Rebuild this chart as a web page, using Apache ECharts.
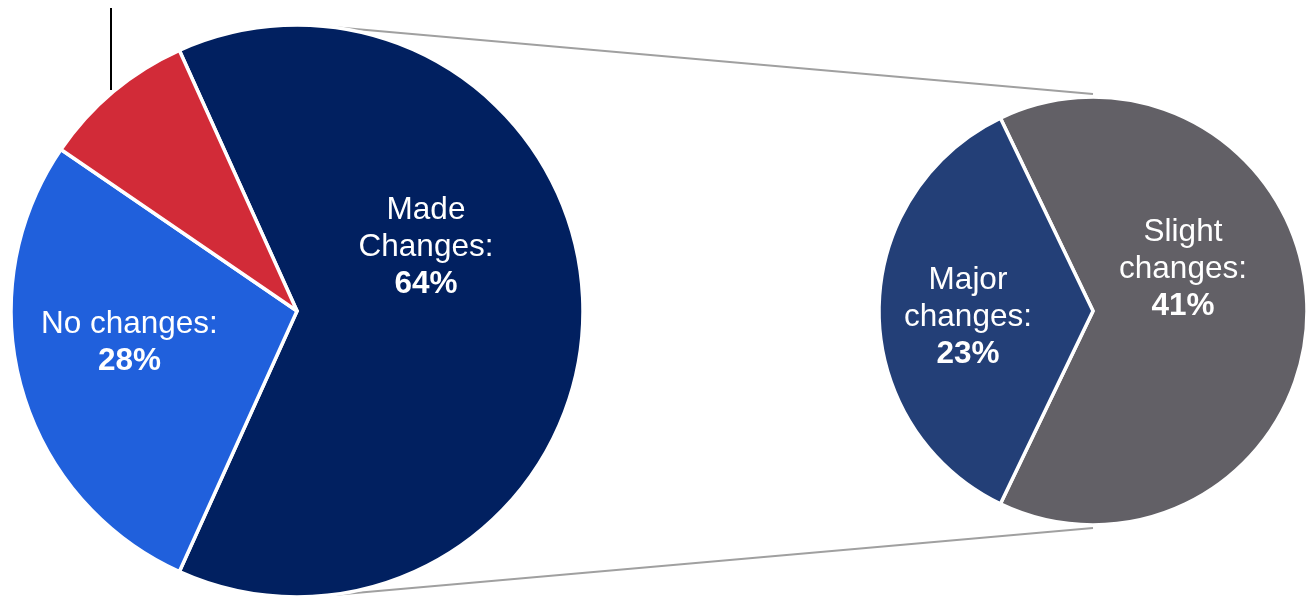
<!DOCTYPE html>
<html><head><meta charset="utf-8">
<script src="https://cdn.jsdelivr.net/npm/echarts@6/dist/echarts.min.js"></script>
<style>html,body{margin:0;padding:0;background:#fff}#c{width:1309px;height:597px}</style>
</head><body><div id="c"></div>
<script>
// ---- data ----
const mainCategories = ['Made Changes', 'No changes', 'Other'];
const mainLabels = ['Made\nChanges:', 'No changes:', ''];
const mainValues = [63.5, 27.8, 8.7];
const subCategories = ['Slight changes', 'Major changes'];
const subLabels = ['Slight\nchanges:', 'Major\nchanges:'];
const subValues = [40.8, 22.7];

// ---- style ----
const mainColors = ['#012060', '#2060dc', '#d22b38'];
const subColors = ['#626066', '#233f77'];
const mainCenter = [297, 311], mainR = 286;
const subCenter = [1093, 311], subR = 214;
const mainShift = [[-17, -64], [-27, -8], [0, 0]];
const subShift = [[-20, -42], [-15, 6]];
const FONT = '"Liberation Sans", Arial, sans-serif';

const sum = a => a.reduce((s, v) => s + v, 0);
const fmt = (labels) => p => {
  const t = labels[p.dataIndex];
  if (!t) return '';
  return t.split('\n').map(s => '{n|' + s + '}').join('\n') + '\n{v|' + Math.round(p.value) + '%}';
};
const rich = {
  n: { color: '#fff', fontSize: 31.5, fontFamily: FONT, lineHeight: 37 },
  v: { color: '#fff', fontSize: 31.5, fontWeight: 'bold', fontFamily: FONT, lineHeight: 37 }
};

const chart = echarts.init(document.getElementById('c'), null, { renderer: 'canvas' });

// connector line geometry derived from the pie layouts
const tA = 6 * Math.PI / 180;
const lTop = [mainCenter[0] + mainR * Math.sin(tA), mainCenter[1] - mainR * Math.cos(tA)];
const lBot = [mainCenter[0] + mainR * Math.sin(tA), mainCenter[1] + mainR * Math.cos(tA)];
const rTop = [subCenter[0], subCenter[1] - subR - 3];
const rBot = [subCenter[0], subCenter[1] + subR + 3];

chart.setOption({
  animation: false,
  backgroundColor: '#fff',
  graphic: [
    { type: 'line', shape: { x1: lTop[0], y1: lTop[1], x2: rTop[0], y2: rTop[1] }, style: { stroke: '#a0a0a0', lineWidth: 2 }, z: 0 },
    { type: 'line', shape: { x1: lBot[0], y1: lBot[1], x2: rBot[0], y2: rBot[1] }, style: { stroke: '#a0a0a0', lineWidth: 2 }, z: 0 },
    { type: 'line', shape: { x1: 111, y1: 8, x2: 111, y2: 90 }, style: { stroke: '#000', lineWidth: 2 }, z: 10 }
  ],
  series: [
    {
      type: 'pie',
      center: mainCenter,
      radius: mainR,
      clockwise: true,
      startAngle: mainValues[0] / sum(mainValues) * 180,
      avoidLabelOverlap: false,
      emphasis: { disabled: true },
      itemStyle: { borderColor: '#fff', borderWidth: 3.5 },
      label: { show: true, position: 'inside', formatter: fmt(mainLabels), rich: rich, align: 'center' },
      labelLine: { show: false },
      labelLayout: p => ({ dx: mainShift[p.dataIndex][0], dy: mainShift[p.dataIndex][1] }),
      data: mainCategories.map((n, i) => ({ name: n, value: mainValues[i], itemStyle: { color: mainColors[i] } })),
      z: 2
    },
    {
      type: 'pie',
      center: subCenter,
      radius: subR,
      clockwise: true,
      startAngle: subValues[0] / sum(subValues) * 180,
      avoidLabelOverlap: false,
      emphasis: { disabled: true },
      itemStyle: { borderColor: '#fff', borderWidth: 3.5 },
      label: { show: true, position: 'inside', formatter: fmt(subLabels), rich: rich, align: 'center' },
      labelLine: { show: false },
      labelLayout: p => ({ dx: subShift[p.dataIndex][0], dy: subShift[p.dataIndex][1] }),
      data: subCategories.map((n, i) => ({ name: n, value: subValues[i], itemStyle: { color: subColors[i] } })),
      z: 2
    }
  ]
});
</script>
</body></html>
